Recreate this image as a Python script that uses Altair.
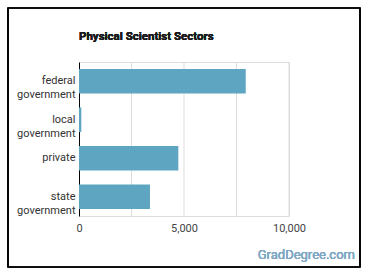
import altair as alt
import pandas as pd

# Employment of physical scientists by sector
sectors = ["federal government", "local government", "private", "state government"]
workers = [7940, 110, 4730, 3380]

grid_ticks = [2500, 5000, 7500, 10000]
label_ticks = [0, 5000, 10000]
x_max = 10000

df = pd.DataFrame({"sector": sectors, "workers": workers})
grid_df = pd.DataFrame({"tick": grid_ticks})

FONT = "Roboto"
BAR = "#5ea5c2"
x_scale = alt.Scale(domain=[0, x_max], nice=False)
x_axis = alt.Axis(
    values=label_ticks,
    format=",d",
    grid=False,
    domain=False,
    ticks=False,
    labelPadding=6,
    labelFontSize=11,
    labelColor="#444444",
    labelFont=FONT,
    labelFlush=False,
    title=None,
)

# vertical gridlines at every 2,500
grid = alt.Chart(grid_df).mark_rule(color="#dddddd", strokeWidth=1).encode(
    x=alt.X("tick:Q", scale=x_scale, axis=x_axis)
)

bars = alt.Chart(df).mark_bar(color=BAR).encode(
    x=alt.X("workers:Q", scale=x_scale, axis=x_axis),
    y=alt.Y(
        "sector:N",
        sort=sectors,
        scale=alt.Scale(paddingInner=0.36, paddingOuter=0.18),
        axis=alt.Axis(
            labelExpr="split(datum.label, ' ')",
            labelLineHeight=14,
            labelFontSize=11,
            labelColor="#333333",
            labelFont=FONT,
            labelPadding=4,
            ticks=False,
            domainColor="#000000",
            domainWidth=1,
            title=None,
        ),
    ),
)

# outer frame around the whole graphic
frame = alt.Chart(df).mark_rect(
    fillOpacity=0, stroke="#000000", strokeWidth=1.2
).encode(
    x=alt.value(-71), x2=alt.value(281), y=alt.value(-54), y2=alt.value(205)
)

heading = alt.Chart(df).mark_text(
    text="Physical Scientist Sectors", align="left", baseline="middle",
    font=FONT, fontSize=11.5, fontWeight="bold", color="#1a1a1a"
).encode(x=alt.value(0), y=alt.value(-25))

brand = alt.Chart(df).mark_text(
    text="GradDegree.com", align="right", baseline="middle",
    font=FONT, fontSize=13, fontWeight="normal", color="#7fa8c4"
).encode(x=alt.value(276), y=alt.value(193))

chart = alt.layer(grid, bars, frame, heading, brand).properties(
    width=210,
    height=154,
    autosize=alt.AutoSizeParams(type="none"),
    padding={"left": 79, "top": 62, "right": 81, "bottom": 62},
).configure_view(stroke="transparent", strokeWidth=0).configure(background="#ffffff")

chart.save("out.html", embed_options={"renderer": "svg", "actions": False})
